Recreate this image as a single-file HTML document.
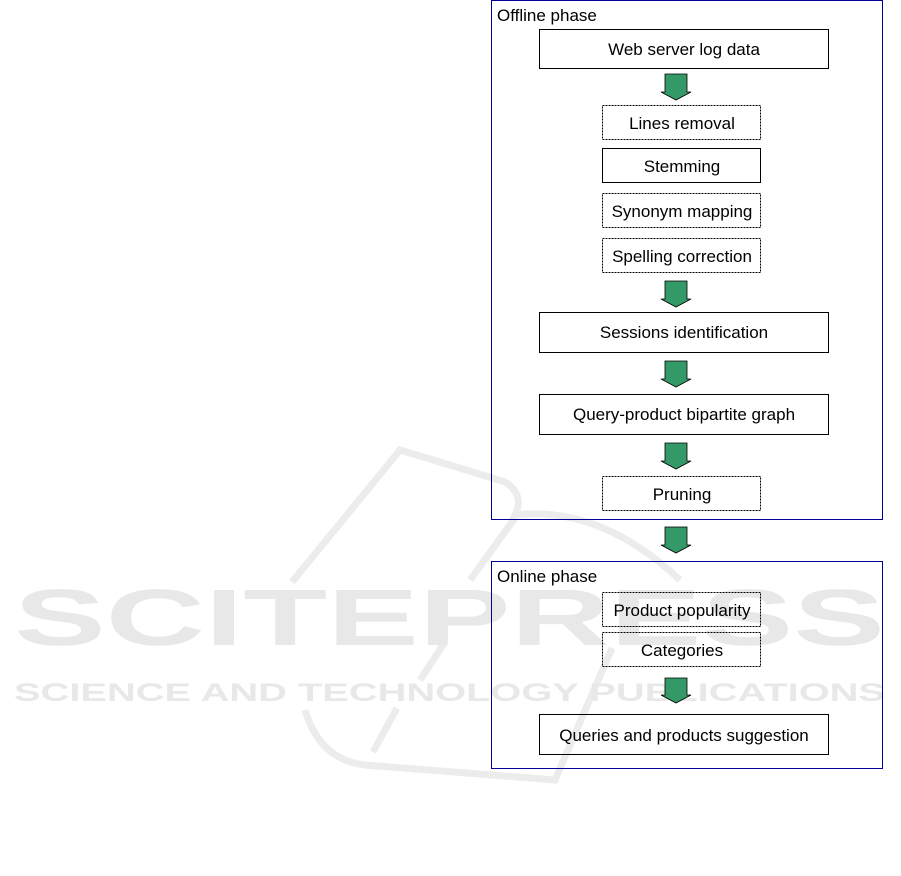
<!DOCTYPE html>
<html><head><meta charset="utf-8"><style>
html,body{margin:0;padding:0;background:#fff;}
body{width:901px;height:876px;position:relative;overflow:hidden;font-family:"Liberation Sans",sans-serif;}
</style></head><body>
<svg width="901" height="876" xmlns="http://www.w3.org/2000/svg" style="position:absolute;left:0;top:0">
<g fill="none" stroke="#ececec" stroke-width="7">
<path d="M292 582 L400 450 Q460 468 505 482 Q525 495 515 515 Q600 505 680 580"/>
<path d="M515 518 L470 580"/>
<path d="M445 642 L420 680"/>
<path d="M305 710 Q320 760 365 765 L555 780 L612 648"/>
<path d="M397 708 L373 752"/>
</g>
<g fill="#e8e8e8" font-family="Liberation Sans, sans-serif" font-weight="bold">
<text x="14" y="645" font-size="80" textLength="871" lengthAdjust="spacingAndGlyphs">SCITEPRESS</text>
<text x="14" y="701" font-size="25" textLength="871" lengthAdjust="spacingAndGlyphs">SCIENCE AND TECHNOLOGY PUBLICATIONS</text>
</g>
<g fill="none" stroke="#000099" stroke-width="1">
<rect x="491.5" y="0.5" width="391" height="519"/>
<rect x="491.5" y="561.5" width="391" height="207"/>
</g>
<g font-family="Liberation Sans, sans-serif" font-size="17" fill="#000">
<text x="497" y="21">Offline phase</text>
<text x="497" y="582">Online phase</text>
</g>
<g stroke="#000" stroke-width="1" fill="none">
<rect x="539.5" y="29.5" width="289" height="39"/>
<rect x="602.5" y="105.5" width="158" height="34" stroke-dasharray="2,1"/>
<rect x="602.5" y="148.5" width="158" height="34"/>
<rect x="602.5" y="193.5" width="158" height="34" stroke-dasharray="2,1"/>
<rect x="602.5" y="238.5" width="158" height="34" stroke-dasharray="2,1"/>
<rect x="539.5" y="312.5" width="289" height="40"/>
<rect x="539.5" y="394.5" width="289" height="40"/>
<rect x="602.5" y="476.5" width="158" height="34" stroke-dasharray="2,1"/>
<rect x="602.5" y="592.5" width="158" height="34" stroke-dasharray="2,1"/>
<rect x="602.5" y="632.5" width="158" height="34" stroke-dasharray="2,1"/>
<rect x="539.5" y="714.5" width="289" height="40"/>
</g>
<g font-family="Liberation Sans, sans-serif" font-size="17" fill="#000" text-anchor="middle">
<text x="684" y="55">Web server log data</text>
<text x="682" y="129">Lines removal</text>
<text x="682" y="172">Stemming</text>
<text x="682" y="217">Synonym mapping</text>
<text x="682" y="262">Spelling correction</text>
<text x="684" y="338">Sessions identification</text>
<text x="684" y="420">Query-product bipartite graph</text>
<text x="682" y="500">Pruning</text>
<text x="682" y="616">Product popularity</text>
<text x="682" y="656">Categories</text>
<text x="684" y="741">Queries and products suggestion</text>
</g>
<g fill="#339966" stroke="#000" stroke-width="0.8">
<path d="M665 74 H687 V92 H691 L676 100 L661 92 H665 Z"/>
<path d="M665 281 H687 V299 H691 L676 307 L661 299 H665 Z"/>
<path d="M665 361 H687 V379 H691 L676 387 L661 379 H665 Z"/>
<path d="M665 443 H687 V461 H691 L676 469 L661 461 H665 Z"/>
<path d="M665 527 H687 V545 H691 L676 553 L661 545 H665 Z"/>
<path d="M665 678 H687 V695 H691 L676 703 L661 695 H665 Z"/>
</g>
</svg>
</body></html>
